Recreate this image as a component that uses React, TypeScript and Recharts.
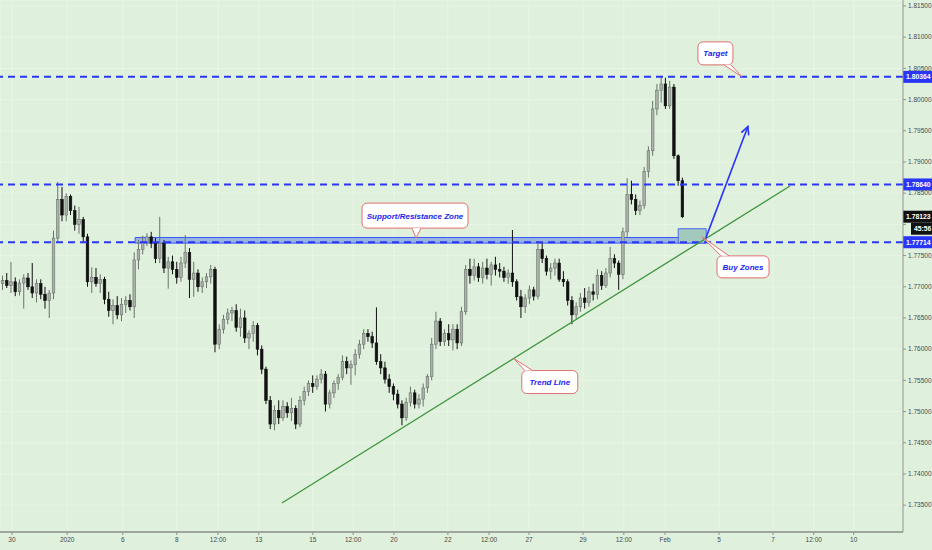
import {
  ComposedChart,
  Bar,
  XAxis,
  YAxis,
  CartesianGrid,
  ReferenceLine,
  ReferenceArea,
  ReferenceDot,
} from 'recharts';

// [open, high, low, close]
type Candle = [number, number, number, number];

const lateDec: Candle[] = [
  [1.7705, 1.7718, 1.7695, 1.771], [1.771, 1.7722, 1.7698, 1.7702], [1.7702, 1.774, 1.769, 1.7708],
  [1.7708, 1.7715, 1.7685, 1.7692], [1.7692, 1.7712, 1.7686, 1.7706], [1.7706, 1.772, 1.7665, 1.7714],
  [1.7714, 1.7722, 1.7695, 1.77], [1.77, 1.7738, 1.7682, 1.769], [1.769, 1.7712, 1.7675, 1.7705],
  [1.7705, 1.7712, 1.768, 1.7688], [1.7688, 1.77, 1.7665, 1.7678], [1.7678, 1.7695, 1.765, 1.769],
];

const earlyJan: Candle[] = [
  [1.769, 1.779, 1.768, 1.7778], [1.7778, 1.7868, 1.777, 1.784], [1.784, 1.786, 1.7805, 1.7815],
  [1.7815, 1.785, 1.7805, 1.7845], [1.7845, 1.7848, 1.7815, 1.7822], [1.7822, 1.783, 1.779, 1.78],
  [1.78, 1.7828, 1.7785, 1.7808], [1.7808, 1.7812, 1.777, 1.778], [1.778, 1.7785, 1.77, 1.7708],
  [1.7708, 1.7731, 1.769, 1.7715], [1.7715, 1.773, 1.77, 1.7705], [1.7705, 1.772, 1.769, 1.7712],
  [1.7712, 1.7716, 1.7672, 1.768], [1.768, 1.7692, 1.7652, 1.7662], [1.7662, 1.768, 1.764, 1.767],
  [1.767, 1.7685, 1.7648, 1.7655], [1.7655, 1.7682, 1.7645, 1.7672], [1.7672, 1.7685, 1.7658, 1.7678],
  [1.7678, 1.7688, 1.7662, 1.7668],
];

const midJan: Candle[] = [
  [1.7668, 1.7755, 1.765, 1.7743], [1.7743, 1.7775, 1.7728, 1.776], [1.776, 1.7782, 1.7752, 1.7772],
  [1.7772, 1.7786, 1.7765, 1.778], [1.778, 1.7788, 1.7762, 1.777], [1.777, 1.7778, 1.7738, 1.7745],
  [1.7745, 1.7812, 1.7738, 1.777], [1.777, 1.7775, 1.7722, 1.773], [1.773, 1.7748, 1.7697, 1.774],
  [1.774, 1.775, 1.772, 1.7728], [1.7728, 1.774, 1.7705, 1.7715], [1.7715, 1.7748, 1.7708, 1.7738],
  [1.7738, 1.7783, 1.773, 1.7755], [1.7755, 1.7762, 1.7682, 1.7712], [1.7712, 1.774, 1.7684, 1.7722],
  [1.7722, 1.7728, 1.7692, 1.77], [1.77, 1.7715, 1.769, 1.7708], [1.7708, 1.7722, 1.7698, 1.7716],
  [1.7716, 1.7735, 1.7705, 1.7728], [1.7728, 1.7732, 1.7595, 1.7608], [1.7608, 1.764, 1.76, 1.7632],
  [1.7632, 1.7655, 1.7625, 1.7648], [1.7648, 1.7665, 1.764, 1.7658], [1.7658, 1.7668, 1.7645, 1.7662],
  [1.7662, 1.7672, 1.7628, 1.7635], [1.7635, 1.7665, 1.762, 1.765], [1.765, 1.7662, 1.761, 1.7618],
  [1.7618, 1.763, 1.76, 1.7625], [1.7625, 1.7645, 1.7612, 1.7638], [1.7638, 1.7642, 1.759, 1.76],
];

const thirdWeekJan: Candle[] = [
  [1.76, 1.7606, 1.756, 1.7568], [1.7568, 1.7572, 1.7512, 1.7518], [1.7518, 1.7525, 1.7472, 1.748],
  [1.748, 1.751, 1.747, 1.7502], [1.7502, 1.7518, 1.748, 1.749], [1.749, 1.7518, 1.7485, 1.7508],
  [1.7508, 1.7515, 1.749, 1.7498], [1.7498, 1.7522, 1.7485, 1.7505], [1.7505, 1.751, 1.7472, 1.748],
  [1.748, 1.7525, 1.7475, 1.7518], [1.7518, 1.754, 1.751, 1.7532], [1.7532, 1.755, 1.7525, 1.7545],
  [1.7545, 1.7558, 1.753, 1.754], [1.754, 1.7558, 1.7535, 1.7552], [1.7552, 1.7568, 1.7545, 1.756],
  [1.756, 1.7565, 1.75, 1.7512], [1.7512, 1.7535, 1.7505, 1.753], [1.753, 1.755, 1.7522, 1.7545],
  [1.7545, 1.756, 1.7535, 1.7555], [1.7555, 1.759, 1.755, 1.758], [1.758, 1.7588, 1.756, 1.757],
  [1.757, 1.7582, 1.7543, 1.7575], [1.7575, 1.76, 1.7558, 1.7592], [1.7592, 1.7615, 1.7585, 1.7608],
  [1.7608, 1.7632, 1.76, 1.7625], [1.7625, 1.7632, 1.7612, 1.762], [1.762, 1.7628, 1.7602, 1.761],
  [1.761, 1.7667, 1.7575, 1.758], [1.758, 1.7592, 1.756, 1.757], [1.757, 1.758, 1.7545, 1.7552],
];

const fourthWeekJan: Candle[] = [
  [1.7552, 1.756, 1.753, 1.754], [1.754, 1.7545, 1.7518, 1.7528], [1.7528, 1.7535, 1.7505, 1.7512],
  [1.7512, 1.7518, 1.7478, 1.749], [1.749, 1.7522, 1.7485, 1.7515], [1.7515, 1.754, 1.7508, 1.753],
  [1.753, 1.7535, 1.7505, 1.7512], [1.7512, 1.7528, 1.7505, 1.752], [1.752, 1.7545, 1.7508, 1.7538],
  [1.7538, 1.756, 1.753, 1.7556], [1.7556, 1.7618, 1.755, 1.7608], [1.7608, 1.766, 1.76, 1.7645],
  [1.7645, 1.765, 1.7605, 1.7612], [1.7612, 1.7632, 1.7605, 1.7625], [1.7625, 1.764, 1.7605, 1.7615],
  [1.7615, 1.764, 1.7598, 1.7632], [1.7632, 1.764, 1.76, 1.761], [1.761, 1.7668, 1.7605, 1.766],
  [1.766, 1.7735, 1.7655, 1.7728], [1.7728, 1.7745, 1.7705, 1.7718], [1.7718, 1.7745, 1.771, 1.7732],
  [1.7732, 1.7738, 1.7708, 1.7715], [1.7715, 1.774, 1.7705, 1.773], [1.773, 1.7745, 1.7712, 1.772],
  [1.772, 1.774, 1.7702, 1.7735], [1.7735, 1.7748, 1.7718, 1.7728], [1.7728, 1.7738, 1.7715, 1.7725],
  [1.7725, 1.7732, 1.7708, 1.7715], [1.7715, 1.7728, 1.7705, 1.7722], [1.7722, 1.7791, 1.77, 1.7708],
  [1.7708, 1.7712, 1.7678, 1.7684], [1.7684, 1.7695, 1.765, 1.7668], [1.7668, 1.7688, 1.7658, 1.7682],
  [1.7682, 1.7702, 1.7672, 1.7695], [1.7695, 1.77, 1.7678, 1.7685],
];

const endJan: Candle[] = [
  [1.7685, 1.7772, 1.768, 1.776], [1.776, 1.777, 1.7738, 1.7745], [1.7745, 1.775, 1.7718, 1.7725],
  [1.7725, 1.7738, 1.7712, 1.773], [1.773, 1.7745, 1.7718, 1.7738], [1.7738, 1.7745, 1.7708, 1.7712],
  [1.7712, 1.7725, 1.77, 1.7708], [1.7708, 1.7712, 1.767, 1.7678], [1.7678, 1.7685, 1.764, 1.7655],
  [1.7655, 1.7675, 1.7648, 1.7668], [1.7668, 1.769, 1.766, 1.7682], [1.7682, 1.7698, 1.7665, 1.7675],
  [1.7675, 1.77, 1.7668, 1.7692], [1.7692, 1.7705, 1.7678, 1.7688], [1.7688, 1.7728, 1.768, 1.7718],
  [1.7718, 1.7725, 1.7695, 1.7702], [1.7702, 1.773, 1.7698, 1.7722], [1.7722, 1.7764, 1.7715, 1.7745],
  [1.7745, 1.7752, 1.773, 1.7738], [1.7738, 1.7742, 1.7695, 1.772],
];

const earlyFeb: Candle[] = [
  [1.772, 1.7795, 1.7712, 1.7788], [1.7788, 1.7874, 1.778, 1.7848], [1.7848, 1.787, 1.7832, 1.784],
  [1.784, 1.7848, 1.7815, 1.7822], [1.7822, 1.7838, 1.7815, 1.783], [1.783, 1.7892, 1.7825, 1.7885],
  [1.7885, 1.7925, 1.7875, 1.7918], [1.7918, 1.7998, 1.791, 1.7985], [1.7985, 1.8025, 1.7975, 1.8015],
  [1.8015, 1.8038, 1.7995, 1.8025], [1.8025, 1.8035, 1.7985, 1.799], [1.799, 1.803, 1.7985, 1.802],
  [1.802, 1.8025, 1.7905, 1.791], [1.791, 1.7912, 1.7862, 1.787], [1.787, 1.7875, 1.781, 1.78123],
];

// bottom axis: tick positions (in candle-index units) and their labels
const xTickPos = [2.8, 15.8, 28.9, 41.6, 51.3, 60.9, 73.6, 83.1, 92.7, 105.4, 115.1, 124.5, 137.2, 146.8, 156.5, 169.2, 181.9, 191.5, 200.9];
const xTickLabels = ['30', '2020', '6', '8', '12:00', '13', '15', '12:00', '20', '22', '12:00', '27', '29', '12:00', 'Feb', '5', '7', '12:00', '10'];

const priceTicks = [1.735, 1.74, 1.745, 1.75, 1.755, 1.76, 1.765, 1.77, 1.775, 1.78, 1.785, 1.79, 1.795, 1.8, 1.805, 1.81, 1.815];

// horizontal levels
const targetLevel = 1.80364;
const resistLevel = 1.7864;
const supportLevel = 1.77714;
const lastPrice = 1.78123;
const countdown = '45:56';

// zones [x1, x2, y1, y2]
const srZone = [31.8, 165.9, 1.777, 1.7779];
const buyZone = [159.6, 166.2, 1.777, 1.7793];

// trend line and projected move
const trendLine = [{ x: 66.35, y: 1.73535 }, { x: 185.9, y: 1.78615 }];
const projection = [{ x: 166.1, y: 1.7778 }, { x: 176.0, y: 1.7957 }];

// notes: text + the data point their pointer touches
const noteTexts = ['Target', 'Support/Resistance Zone', 'Buy Zones', 'Trend Line'];
const noteX = [174.6, 97.9, 165.2, 120.9];
const noteY = [1.80364, 1.7778, 1.778, 1.7585];

// box offsets (px) relative to the pointer tip, and tail base points
const noteLayout = [
  { bx: -44, by: -35, bw: 35, bh: 23, t1: [-18, -12], t2: [-11, -12] },
  { bx: -54, by: -35, bw: 106, bh: 25, t1: [-4, -10], t2: [5, -10] },
  { bx: 15, by: 19, bw: 52, bh: 22, t1: [19, 19], t2: [27, 19] },
  { bx: 8, by: 12, bw: 56, bh: 23, t1: [11, 12], t2: [19, 12] },
];

const candles = [...lateDec, ...earlyJan, ...midJan, ...thirdWeekJan, ...fourthWeekJan, ...endJan, ...earlyFeb];
const data = candles.map((c, i) => ({ idx: i + 0.5, open: c[0], high: c[1], low: c[2], close: c[3] }));

const FONT = '"Liberation Sans", Arial, sans-serif';
const BLUE = '#2a36f6';

function CandleShape(props: any) {
  const { x, y, width, height, payload } = props;
  if (!payload) return null;
  const { open, high, low, close } = payload;
  const cx = x + width / 2;
  const top = Math.min(y, y + height);
  const span = Math.abs(height);
  const toY = (v: number) => top + ((high - v) / (high - low || 1)) * span;
  const up = close >= open;
  const bTop = toY(Math.max(open, close));
  const bBot = toY(Math.min(open, close));
  const bw = 2.6;
  const edge = up ? '#6b746b' : '#111';
  return (
    <g>
      <line x1={cx} x2={cx} y1={top} y2={top + span} stroke={edge} strokeWidth={1} />
      <rect x={cx - bw / 2} y={bTop} width={bw} height={Math.max(bBot - bTop, 0.8)} fill={up ? '#a9b1a9' : '#111'} stroke={edge} strokeWidth={0.6} />
    </g>
  );
}

function PriceTag(props: any) {
  const { viewBox, text, bg, sub } = props;
  if (!viewBox) return null;
  const x = viewBox.x + viewBox.width;
  const y = viewBox.y;
  return (
    <g>
      <rect x={x} y={y - 6} width={30} height={12} fill={bg} />
      <text x={x + 3} y={y + 2.5} fill="#fff" fontSize={6.8} fontWeight="bold" fontFamily={FONT}>{text}</text>
      {sub && (
        <g>
          <rect x={x + 8} y={y + 6} width={22} height={12} fill={bg} />
          <text x={x + 11} y={y + 14.5} fill="#fff" fontSize={6.8} fontWeight="bold" fontFamily={FONT}>{sub}</text>
        </g>
      )}
    </g>
  );
}

function ArrowShape(props: any) {
  const { x1, y1, x2, y2 } = props;
  if (x1 == null) return null;
  const ang = Math.atan2(y2 - y1, x2 - x1);
  const len = 9;
  const a1 = ang + Math.PI - 0.45;
  const a2 = ang + Math.PI + 0.45;
  const pts = `${x2 + len * Math.cos(a1)},${y2 + len * Math.sin(a1)} ${x2},${y2} ${x2 + len * Math.cos(a2)},${y2 + len * Math.sin(a2)}`;
  return (
    <g>
      <line x1={x1} y1={y1} x2={x2} y2={y2} stroke={BLUE} strokeWidth={1.6} />
      <polyline points={pts} fill="none" stroke={BLUE} strokeWidth={1.6} />
    </g>
  );
}

function Callout(props: any) {
  const { cx, cy, text, lay } = props;
  if (cx == null) return null;
  const bx = cx + lay.bx;
  const by = cy + lay.by;
  const p1 = [cx + lay.t1[0], cy + lay.t1[1]];
  const p2 = [cx + lay.t2[0], cy + lay.t2[1]];
  return (
    <g>
      <rect x={bx} y={by} width={lay.bw} height={lay.bh} rx={5} fill="#fff" stroke="#e07070" strokeWidth={1} />
      <polygon points={`${p1[0]},${p1[1]} ${cx},${cy} ${p2[0]},${p2[1]}`} fill="#fff" stroke="none" />
      <line x1={p1[0]} y1={p1[1]} x2={cx} y2={cy} stroke="#e07070" strokeWidth={1} />
      <line x1={p2[0]} y1={p2[1]} x2={cx} y2={cy} stroke="#e07070" strokeWidth={1} />
      <text
        x={bx + lay.bw / 2}
        y={by + lay.bh / 2 + 3}
        textAnchor="middle"
        fill="#1c1cf0"
        fontSize={8}
        fontWeight="bold"
        fontStyle="italic"
        fontFamily={FONT}
      >
        {text}
      </text>
    </g>
  );
}

// the 1.78000 label sits under the live price tag in the reference, so it is left blank
const priceLabel = (v: number) => (Math.abs(v - 1.78) < 1e-9 ? '' : Number(v).toFixed(5));

export default function App() {
  return (
    <div style={{ position: 'absolute', left: 0, top: 0, width: 932, height: 550, background: '#dff0dc' }}>
      <ComposedChart width={932} height={550} data={data} margin={{ top: 0, right: 0, left: 0, bottom: 0 }}>
        <CartesianGrid stroke="#eaf5e8" strokeWidth={1} />
        <XAxis
          dataKey="idx"
          type="number"
          domain={[0, 212.5]}
          ticks={xTickPos}
          interval={0}
          allowDataOverflow
          tickFormatter={(v) => xTickLabels[xTickPos.indexOf(v)] ?? ''}
          tick={{ fontSize: 6.5, fill: '#4a4a4a', fontFamily: FONT }}
          tickSize={3}
          tickLine={{ stroke: '#8c958c' }}
          axisLine={{ stroke: '#9ea79e', strokeWidth: 2 }}
          height={18}
        />
        <YAxis
          orientation="right"
          type="number"
          domain={[1.7307, 1.81596]}
          ticks={priceTicks}
          interval={0}
          allowDataOverflow
          tickFormatter={priceLabel}
          tick={{ fontSize: 6.5, fill: '#4a4a4a', fontFamily: FONT }}
          tickSize={3}
          tickLine={{ stroke: '#8c958c' }}
          axisLine={{ stroke: '#8c958c' }}
          width={29}
        />
        <Bar dataKey={(d: any) => [d.low, d.high]} barSize={3} shape={<CandleShape />} isAnimationActive={false} />
        <ReferenceArea x1={srZone[0]} x2={srZone[1]} y1={srZone[2]} y2={srZone[3]} fill="#93b0dd" fillOpacity={0.95} stroke="#3a55ff" strokeWidth={1} />
        <ReferenceArea x1={buyZone[0]} x2={buyZone[1]} y1={buyZone[2]} y2={buyZone[3]} fill="#a3c9bc" fillOpacity={1} stroke="#4d68f5" strokeWidth={1} />
        <ReferenceLine y={targetLevel} stroke={BLUE} strokeWidth={2} strokeDasharray="7 5" label={<PriceTag text={targetLevel.toFixed(5)} bg={BLUE} />} />
        <ReferenceLine y={resistLevel} stroke={BLUE} strokeWidth={2} strokeDasharray="7 5" label={<PriceTag text={resistLevel.toFixed(5)} bg={BLUE} />} />
        <ReferenceLine y={supportLevel} stroke={BLUE} strokeWidth={2} strokeDasharray="7 5" label={<PriceTag text={supportLevel.toFixed(5)} bg={BLUE} />} />
        <ReferenceLine y={lastPrice} stroke="none" label={<PriceTag text={lastPrice.toFixed(5)} bg="#111" sub={countdown} />} />
        <ReferenceLine segment={trendLine} stroke="#3c963c" strokeWidth={1.3} ifOverflow="visible" />
        <ReferenceLine segment={projection} ifOverflow="visible" shape={(p: any) => <ArrowShape {...p} />} />
        {noteTexts.map((t, i) => (
          <ReferenceDot
            key={t}
            x={noteX[i]}
            y={noteY[i]}
            r={0}
            ifOverflow="visible"
            shape={(p: any) => <Callout cx={p.cx} cy={p.cy} text={t} lay={noteLayout[i]} />}
          />
        ))}
      </ComposedChart>
    </div>
  );
}
